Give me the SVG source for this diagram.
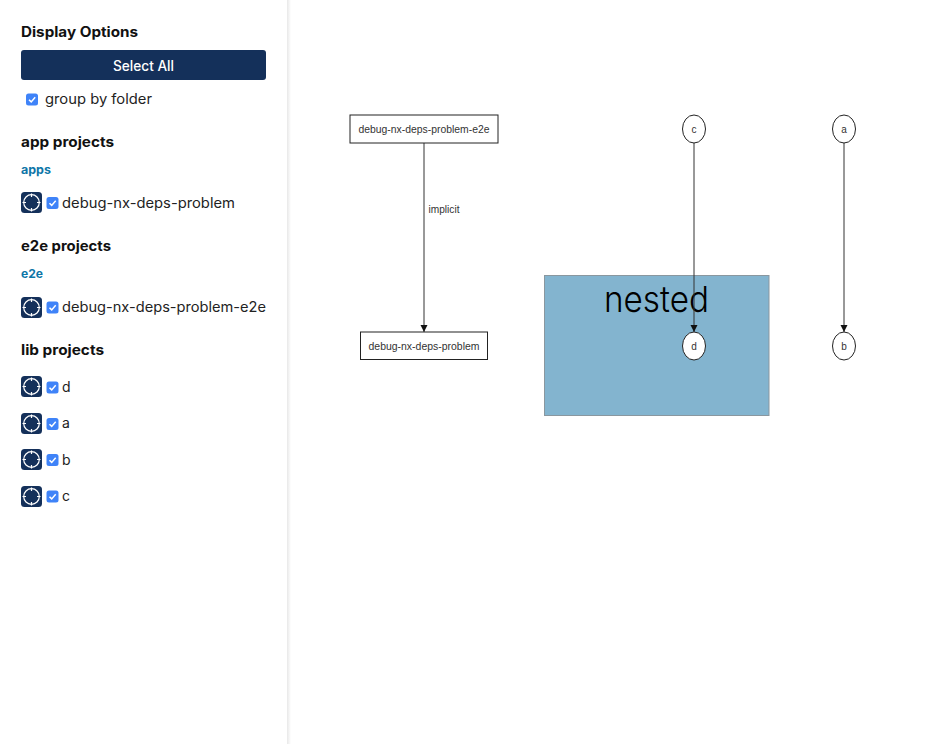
<svg xmlns="http://www.w3.org/2000/svg" width="938" height="744" viewBox="0 0 938 744">
<style>
text{font-family:"Inter","Liberation Sans",sans-serif}
.h{font-size:14px;font-weight:700;fill:#111}
.f{font-size:12px;font-weight:700;fill:#0e76a8}
.l{font-size:14px;fill:#222}
.g{font-family:"Liberation Sans",Arial,sans-serif;font-size:10px;fill:#333;text-anchor:middle}
.e{fill:none;stroke:#333;stroke-width:1}
.n{fill:#fff;stroke:#222;stroke-width:1}
</style>
<defs>
<marker id="arrow" markerUnits="userSpaceOnUse" markerWidth="8" markerHeight="8" refX="7" refY="3.5" orient="auto"><path d="M0 0L7 3.5L0 7Z" fill="#111"/></marker>
<g id="cb"><rect width="12" height="12" rx="2.5" fill="#3f83f8"/><path d="M3 6.2L5.2 8.4L9.2 3.8" fill="none" stroke="#fff" stroke-width="1.5"/></g>
<g id="ic"><rect width="21" height="21" rx="3.5" fill="#14305a"/><circle cx="10.500" cy="10.500" r="7.800" fill="none" stroke="#fff" stroke-width="1.200"/><path d="M10.500 1.500V5M10.500 16V19.500M1.500 10.500H5M16 10.500H19.500" stroke="#fff" stroke-width="1.200"/></g>
<linearGradient id="sh"><stop offset="0" stop-color="#e8e8e8"/><stop offset="1" stop-color="#fff"/></linearGradient>
</defs>
<rect width="938" height="744" fill="#fff"/>
<g id="sidebar">
<rect x="287" y="0" width="4" height="744" fill="url(#sh)"/>
<text class="h" x="21" y="37" textLength="117" lengthAdjust="spacingAndGlyphs">Display Options</text>
<rect x="21" y="50" width="245" height="30" rx="3" fill="#14305a"/>
<text x="143.500" y="71" font-size="14" font-weight="500" fill="#fff" text-anchor="middle" textLength="61" lengthAdjust="spacingAndGlyphs">Select All</text>
<use href="#cb" x="26" y="93.500"/>
<text class="l" x="45" y="104" textLength="107" lengthAdjust="spacingAndGlyphs">group by folder</text>
<text class="h" x="21" y="147" textLength="93" lengthAdjust="spacingAndGlyphs">app projects</text>
<text class="f" x="21" y="174" textLength="30" lengthAdjust="spacingAndGlyphs">apps</text>
<use href="#ic" x="21" y="192"/><use href="#cb" x="46.500" y="197"/>
<text class="l" x="62" y="208" textLength="173" lengthAdjust="spacingAndGlyphs">debug-nx-deps-problem</text>
<text class="h" x="21" y="251" textLength="90" lengthAdjust="spacingAndGlyphs">e2e projects</text>
<text class="f" x="21" y="278" textLength="22" lengthAdjust="spacingAndGlyphs">e2e</text>
<use href="#ic" x="21" y="297"/><use href="#cb" x="46.500" y="301.500"/>
<text class="l" x="62" y="312" textLength="204" lengthAdjust="spacingAndGlyphs">debug-nx-deps-problem-e2e</text>
<text class="h" x="21" y="355" textLength="83" lengthAdjust="spacingAndGlyphs">lib projects</text>
<use href="#ic" x="21" y="376"/><use href="#cb" x="46.500" y="381.500"/><text class="l" x="62" y="392">d</text>
<use href="#ic" x="21" y="413"/><use href="#cb" x="46.500" y="418"/><text class="l" x="62" y="428">a</text>
<use href="#ic" x="21" y="449"/><use href="#cb" x="46.500" y="454"/><text class="l" x="62" y="465">b</text>
<use href="#ic" x="21" y="486"/><use href="#cb" x="46.500" y="490.500"/><text class="l" x="62" y="501">c</text>
</g>
<g id="cluster-nested">
<rect x="544.500" y="275.500" width="224.500" height="140" fill="#83b4cf" stroke="#8a979f"/>
<text x="656.500" y="312" font-size="36" text-anchor="middle" fill="#000" style="font-family:'Inter','Liberation Sans',sans-serif;font-weight:300" textLength="105" lengthAdjust="spacingAndGlyphs">nested</text>
</g>
<g id="connectors">
<path class="e" d="M424 143V332" marker-end="url(#arrow)"/>
<path class="e" d="M694 143V332" marker-end="url(#arrow)"/>
<path class="e" d="M844 143V332" marker-end="url(#arrow)"/>
<text class="g" x="444" y="213" textLength="31" lengthAdjust="spacingAndGlyphs">implicit</text>
</g>
<g id="node-e2e"><rect class="n" x="350" y="115" width="148" height="28"/><text class="g" x="424" y="132.500" textLength="131" lengthAdjust="spacingAndGlyphs">debug-nx-deps-problem-e2e</text></g>
<g id="node-problem"><rect class="n" x="360.500" y="332" width="127" height="27.500"/><text class="g" x="424" y="349.500" textLength="111" lengthAdjust="spacingAndGlyphs">debug-nx-deps-problem</text></g>
<g id="node-c"><ellipse class="n" cx="694" cy="129" rx="11.500" ry="14"/><text class="g" x="694" y="132.500">c</text></g>
<g id="node-a"><ellipse class="n" cx="844" cy="129" rx="11.500" ry="14"/><text class="g" x="844" y="132.500">a</text></g>
<g id="node-d"><ellipse class="n" cx="694" cy="346" rx="11.500" ry="14"/><text class="g" x="694" y="349.500">d</text></g>
<g id="node-b"><ellipse class="n" cx="844" cy="346" rx="11.500" ry="14"/><text class="g" x="844" y="349.500">b</text></g>
</svg>
